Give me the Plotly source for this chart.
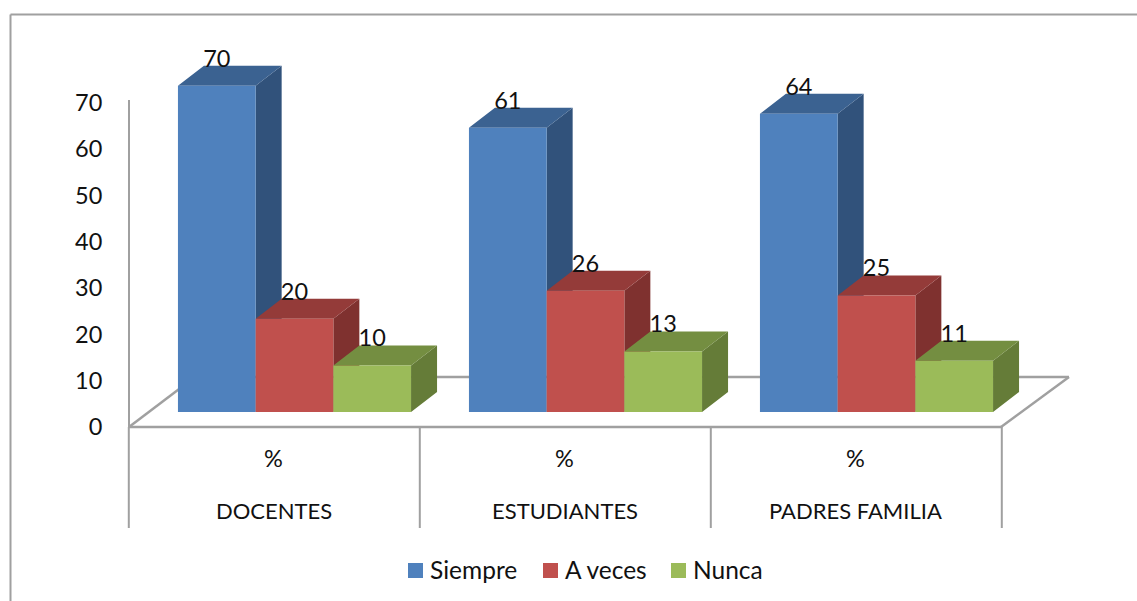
import plotly.graph_objects as go

# Chart data
groups = ["DOCENTES", "ESTUDIANTES", "PADRES FAMILIA"]
sub_label = "%"
series_names = ["Siempre", "A veces", "Nunca"]
siempre = [70, 61, 64]
a_veces = [20, 26, 25]
nunca = [10, 13, 11]
y_ticks = [0, 10, 20, 30, 40, 50, 60, 70]

# Face colours per series: front, side, top
front_colors = ["#4F81BD", "#C0504D", "#9BBB59"]
side_colors = ["#31527B", "#7F312F", "#657C38"]
top_colors = ["#3B6291", "#943B39", "#748E41"]

# Page geometry in pixels
W, H = 1137, 601
GROUP_PITCH = 291.0
FIRST_GROUP_PX = 294.5
BAR_W_PX = 77.7
BASE_PX = 412.0
UNIT_PX = 4.66
DEPTH_X_PX = 26.0
DEPTH_Y_PX = 20.0
GRID = "#A0A0A0"
TEXT = "#111111"
FONT = "Lato"
NUMBER_SIZE = 23.5
CAPS_SIZE = 22
LEGEND_SIZE = 24.5

# Data-space equivalents: one x unit is one group, one y unit is one percentage point
bar_w = BAR_W_PX / GROUP_PITCH
depth_x = DEPTH_X_PX / GROUP_PITCH
depth_y = DEPTH_Y_PX / UNIT_PX
x_range = [-FIRST_GROUP_PX / GROUP_PITCH, (W - FIRST_GROUP_PX) / GROUP_PITCH]
y_range = [(BASE_PX - H) / UNIT_PX, BASE_PX / UNIT_PX]


def px(x):
    return x / W


def py(y):
    return 1 - y / H


fig = go.Figure()

# Value axis: carries the tick labels, positioned on the left wall of the chart
fig.add_trace(go.Scatter(x=[0, 0], y=[0, 70], yaxis="y2", mode="markers", marker=dict(opacity=0),
                         showlegend=False, hoverinfo="skip"))

# Each series gets three polygon traces; painting left to right hides what the next bar covers
for s, values in enumerate([siempre, a_veces, nunca]):
    fx, fy, sx, sy, tx, ty = [], [], [], [], [], []
    for g, v in enumerate(values):
        x0 = g + (s - 1.5) * bar_w
        x1 = x0 + bar_w
        fx += [x0, x1, x1, x0, x0, None]
        fy += [0, 0, v, v, 0, None]
        sx += [x1, x1 + depth_x, x1 + depth_x, x1, x1, None]
        sy += [0, depth_y, v + depth_y, v, 0, None]
        tx += [x0, x1, x1 + depth_x, x0 + depth_x, x0, None]
        ty += [v, v, v + depth_y, v + depth_y, v, None]
    for xs, ys, color in [(sx, sy, side_colors[s]), (tx, ty, top_colors[s]), (fx, fy, front_colors[s])]:
        fig.add_trace(go.Scatter(
            x=xs, y=ys, mode="lines", fill="toself", fillcolor=color,
            line=dict(width=0), name=series_names[s], showlegend=False, hoverinfo="skip",
        ))

# Value labels just above the back edge of each bar top
for s, values in enumerate([siempre, a_veces, nunca]):
    fig.add_trace(go.Scatter(
        x=[g + (s - 1) * bar_w for g in range(len(values))],
        y=[v + depth_y + 5.0 / UNIT_PX for v in values],
        mode="text", text=[str(v) for v in values], textposition="middle center",
        textfont=dict(family=FONT, size=NUMBER_SIZE, color=TEXT),
        showlegend=False, hoverinfo="skip",
    ))

shapes = []


def line(x0, y0, x1, y1, width=2.0):
    shapes.append(dict(type="line", xref="paper", yref="paper", x0=px(x0), y0=py(y0), x1=px(x1), y1=py(y1),
                       line=dict(color=GRID, width=width), layer="below"))


# Outer frame, open on the right and at the bottom
line(10.5, 14.5, W, 14.5)
line(10.5, 14.5, 10.5, H)
# Floor outline and category separators
line(129, 427, 1001, 427, 2.5)
line(129, 427, 195, 377, 2.5)
line(195, 377, 1069, 377, 2.5)
line(1069, 377, 1001, 427, 2.5)
for i in range(len(groups) + 1):
    sep = 128.8 + i * GROUP_PITCH
    line(sep, 427, sep, 528)

annotations = []
for g, name in enumerate(groups):
    cx = g - 21.0 / GROUP_PITCH
    annotations.append(dict(x=cx, xref="x", y=py(457.5), yref="paper", text=sub_label, showarrow=False,
                            xanchor="center", yanchor="middle", font=dict(family=FONT, size=NUMBER_SIZE, color=TEXT)))
    annotations.append(dict(x=cx, xref="x", y=py(510), yref="paper", text=name, showarrow=False,
                            xanchor="center", yanchor="middle", font=dict(family=FONT, size=CAPS_SIZE, color=TEXT)))

# Legend row along the bottom
swatch_left = [408, 543, 671]
for name, color, left in zip(series_names, front_colors, swatch_left):
    shapes.append(dict(type="rect", xref="paper", yref="paper", x0=px(left), x1=px(left + 15),
                       y0=py(578), y1=py(563), fillcolor=color, line=dict(width=0), layer="below"))
    annotations.append(dict(x=px(left + 20), xref="paper", y=py(569), yref="paper", text=name, showarrow=False,
                            xanchor="left", yanchor="middle", font=dict(family=FONT, size=LEGEND_SIZE, color=TEXT)))

fig.update_layout(
    width=W, height=H,
    margin=dict(l=0, r=0, t=0, b=0, autoexpand=False),
    paper_bgcolor="white", plot_bgcolor="rgba(0,0,0,0)",
    showlegend=False,
    xaxis=dict(range=x_range, visible=False, fixedrange=True),
    yaxis=dict(range=y_range, visible=False, fixedrange=True),
    yaxis2=dict(
        anchor="free", position=px(129), side="left", automargin=False,
        domain=[py(427), py(100)], range=[0, 70.6], tickvals=y_ticks,
        showgrid=False, zeroline=False, showline=True, linecolor=GRID, linewidth=2,
        ticks="", ticklabelstandoff=21, tickfont=dict(family=FONT, size=NUMBER_SIZE, color=TEXT),
        fixedrange=True,
    ),
    shapes=shapes, annotations=annotations,
)

fig.write_html("out.html", config={"displayModeBar": False})
